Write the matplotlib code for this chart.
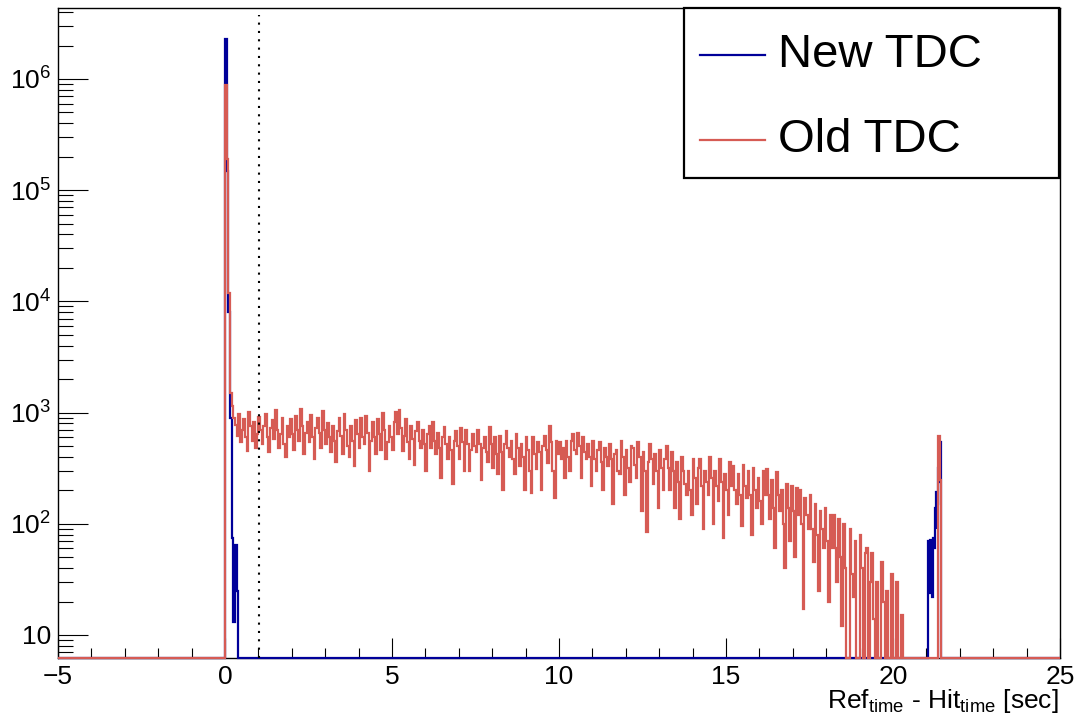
import numpy as np
import matplotlib
matplotlib.use("Agg")
import matplotlib.pyplot as plt
from matplotlib.ticker import MultipleLocator, LogLocator, FuncFormatter, NullFormatter
from matplotlib.patches import Rectangle
from matplotlib.lines import Line2D

plt.rcParams['font.family'] = ['Liberation Sans', 'DejaVu Sans']
plt.rcParams['mathtext.fontset'] = 'custom'
plt.rcParams['mathtext.rm'] = 'Liberation Sans'
plt.rcParams['mathtext.it'] = 'Liberation Sans:italic'

# ---- histogram contents (counts per bin) ----
SERIES_NAMES = ["New TDC", "Old TDC"]

# New TDC: prompt peak at 0 and the late cluster near 21 s
NEW_PEAK_START, NEW_PEAK_WIDTH = 0.0, 0.05
NEW_PEAK = [2.3e6, 1.5e5, 8000, 900, 75, 13, 65, 25]
NEW_LATE_START, NEW_LATE_WIDTH = 21.05, 0.025
NEW_LATE = [70, 24, 72, 30, 68, 22, 75, 60, 140, 90, 195, 150, 320, 240, 540, 380]

# Old TDC: prompt peak, long tail, and the late spike
OLD_PEAK_START, OLD_PEAK_WIDTH = 0.0, 0.05
OLD_PEAK = [8.8e5, 1.9e5, 1.2e4, 1500]
OLD_BODY_START, OLD_BODY_WIDTH = 0.2, 0.05
OLD_BODY = [
    1150, 900, 780, 620, 980, 540, 700, 880, 600, 450, 1020, 760, 560, 820, 480, 640, 920, 700, 520, 760,
    980, 600, 440, 720, 860, 580, 1060, 700, 480, 640, 900, 520, 400, 760, 600, 880, 640, 460, 940, 700,
    560, 1080, 760, 420, 660, 820, 540, 960, 600, 380, 720, 900, 650, 480, 1040, 700, 520, 800, 600, 440,
    760, 560, 360, 680, 900, 620, 420, 980, 700, 500, 400, 760, 560, 330, 860, 640, 480, 900, 600, 520,
    940, 660, 300, 560, 820, 600, 420, 880, 640, 460, 1000, 700, 380, 540, 760, 600, 460, 820, 1020, 640,
    1060, 720, 450, 620, 880, 540, 380, 760, 580, 340, 680, 820, 560, 480, 700, 520, 300, 640, 760, 480,
    820, 560, 420, 660, 480, 260, 600, 740, 520, 380, 600, 460, 230, 560, 680, 500, 380, 720, 540, 300,
    700, 520, 300, 460, 640, 500, 440, 700, 520, 250, 480, 600, 440, 360, 740, 520, 320, 600, 420, 280,
    620, 440, 200, 520, 680, 480, 400, 560, 380, 280, 640, 480, 330, 520, 400, 200, 600, 460, 300, 190,
    600, 420, 310, 540, 440, 200, 500, 620, 460, 350, 760, 540, 300, 170, 560, 420, 540, 380, 480, 260,
    560, 400, 300, 560, 640, 460, 420, 660, 500, 260, 600, 440, 380, 520, 400, 220, 560, 380, 300, 460,
    540, 360, 200, 480, 400, 330, 520, 380, 150, 420, 460, 300, 280, 560, 400, 180, 460, 320, 240, 500,
    480, 340, 260, 540, 400, 130, 440, 300, 85, 360, 520, 380, 230, 420, 300, 140, 460, 320, 200, 380,
    500, 320, 200, 440, 300, 140, 360, 240, 110, 400, 300, 230, 180, 300, 200, 120, 380, 260, 150, 320,
    380, 220, 90, 300, 240, 180, 400, 260, 100, 300, 220, 160, 380, 240, 75, 280, 200, 120, 360, 220,
    330, 200, 150, 280, 180, 95, 340, 220, 170, 300, 180, 80, 320, 200, 140, 260, 160, 100, 300, 180,
    310, 180, 110, 250, 140, 60, 290, 180, 130, 200, 100, 40, 230, 140, 70, 220, 130, 50, 210, 120,
    200, 100, 17, 170, 120, 90, 180, 90, 45, 150, 80, 25, 130, 90, 60, 140, 70, 20, 120, 60,
    120, 60, 30, 110, 50, 12, 100, 40, 0, 0, 90, 35, 22, 70, 0, 0, 80, 40, 0, 55,
    60, 0, 30, 55, 14, 0, 30, 0, 0, 45, 20, 0, 25, 0, 0, 35, 0, 0, 30, 0,
    0, 15,
]
OLD_LATE_START, OLD_LATE_WIDTH = 21.35, 0.05
OLD_LATE = [610, 250]

CUT_TIME = 1.02
XMIN, XMAX = -5, 25
YMIN, YMAX = 6.21, 4.35e6

NEW_COLOR = "#000099"
OLD_COLOR = "#d65b54"


def build_hist(segments):
    """Concatenate (start, width, counts) segments into edges/values over the full range."""
    edges = [XMIN]
    vals = []
    for start, width, counts in segments:
        if start > edges[-1] + 1e-9:
            vals.append(0.0)
            edges.append(start)
        for i, c in enumerate(counts):
            vals.append(float(c))
            edges.append(start + (i + 1) * width)
    if edges[-1] < XMAX - 1e-9:
        vals.append(0.0)
        edges.append(XMAX)
    return np.array(edges), np.array(vals)


new_edges, new_vals = build_hist([
    (NEW_PEAK_START, NEW_PEAK_WIDTH, NEW_PEAK),
    (NEW_LATE_START, NEW_LATE_WIDTH, NEW_LATE),
])
old_edges, old_vals = build_hist([
    (OLD_PEAK_START, OLD_PEAK_WIDTH, OLD_PEAK),
    (OLD_BODY_START, OLD_BODY_WIDTH, OLD_BODY),
    (OLD_LATE_START, OLD_LATE_WIDTH, OLD_LATE),
])

fig = plt.figure(figsize=(10.78, 7.22), dpi=100)
ax = fig.add_axes([58 / 1078, 64 / 722, 1002 / 1078, 650 / 722])
ax.set_yscale('log')
ax.set_xlim(XMIN, XMAX)
ax.set_ylim(YMIN, YMAX)

# empty bins sit on the frame bottom, as on a log-scale histogram
ax.stairs(np.maximum(new_vals, YMIN), new_edges, color=NEW_COLOR, lw=1.6,
          baseline=None, zorder=3, clip_on=False)
ax.stairs(np.maximum(old_vals, YMIN), old_edges, color=OLD_COLOR, lw=1.6,
          baseline=None, zorder=4, clip_on=False)

ax.plot([CUT_TIME, CUT_TIME], [YMIN, 3.8e6], color='black', lw=1.5,
        linestyle=(0, (1, 3)), zorder=5)

# axes / ticks
for s in ax.spines.values():
    s.set_linewidth(1.0)
    s.set_color('black')
ax.xaxis.set_major_locator(MultipleLocator(5))
ax.xaxis.set_minor_locator(MultipleLocator(1))
ax.yaxis.set_major_locator(LogLocator(base=10, numticks=20))
ax.yaxis.set_minor_locator(LogLocator(base=10, subs=np.arange(2, 10), numticks=20))
ax.yaxis.set_minor_formatter(NullFormatter())


def ylab(v, pos):
    e = int(round(np.log10(v)))
    if e == 1:
        return "10"
    return r"$\mathregular{10^{%d}}$" % e


ax.yaxis.set_major_formatter(FuncFormatter(ylab))
ax.xaxis.set_major_formatter(FuncFormatter(lambda v, p: "\u2212%d" % abs(v) if v < 0 else "%d" % v))
ax.tick_params(axis='both', which='both', direction='in', top=False, right=False,
               colors='black', width=0.8, labelsize=19)
ax.tick_params(axis='x', which='major', length=14.4, pad=5)
ax.tick_params(axis='x', which='minor', length=7.2)
ax.tick_params(axis='y', which='major', length=21.6, pad=5)
ax.tick_params(axis='y', which='minor', length=10.8)

fig.text(1059 / 1078, 14 / 722,
         r"Ref$_{\mathregular{time}}$ - Hit$_{\mathregular{time}}$ [sec]",
         ha='right', va='baseline', fontsize=19)

# legend box
def ax_frac(px, py):
    return (px - 58) / 1002, (658 - py) / 650

x0, y0 = ax_frac(684, 178)
x1, y1 = ax_frac(1059, 8)
ax.add_patch(Rectangle((x0, y0), x1 - x0, y1 - y0, transform=ax.transAxes,
                       facecolor='white', edgecolor='black', lw=1.6,
                       zorder=10, clip_on=False))
for name, color, py in [(SERIES_NAMES[0], NEW_COLOR, 55), (SERIES_NAMES[1], OLD_COLOR, 140)]:
    lx0, ly = ax_frac(700, py)
    lx1, _ = ax_frac(765, py)
    ax.add_line(Line2D([lx0, lx1], [ly, ly], transform=ax.transAxes, color=color,
                       lw=1.6, zorder=11, clip_on=False))
    tx, _ = ax_frac(778, py)
    ax.text(tx, ly, name, transform=ax.transAxes, fontsize=34, va='center',
            ha='left', zorder=11)

fig.savefig("out.png", dpi=100)
